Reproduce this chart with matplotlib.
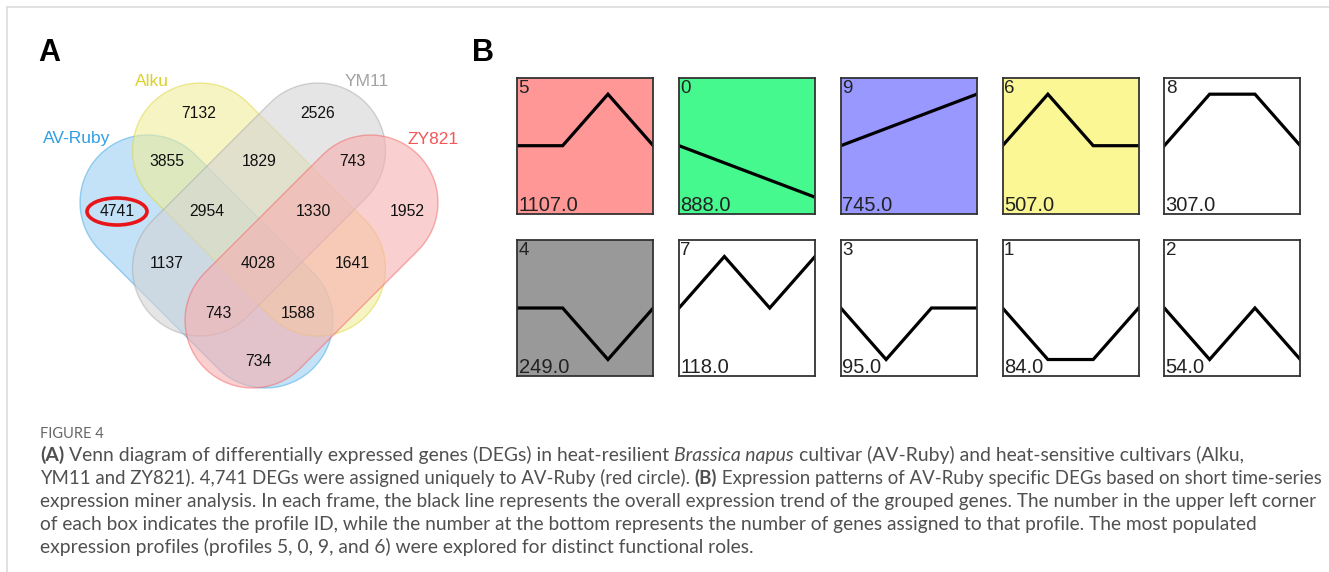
"""Figure 4 : Venn des DEGs (A) et profils STEM spécifiques à AV-Ruby (B)."""
import matplotlib
matplotlib.use("Agg")
import matplotlib.pyplot as plt
from matplotlib.patches import Ellipse, Polygon
import numpy as np

W, H = 1329, 572

# --- Données panneau A (Venn) ---
venn_sets = ["AV-Ruby", "Alku", "YM11", "ZY821"]
venn_label_colors = ["#2E9FE3", "#DCD22A", "#A3A3A3", "#F25757"]
venn_fill_colors = ["#9ED0F3", "#F0ED9B", "#D4D4D4", "#F7AFAF"]
venn_region_keys = ["Alku", "YM11", "AV-Ruby&Alku", "Alku&YM11", "YM11&ZY821",
                    "AV-Ruby", "AV-Ruby&Alku&YM11", "Alku&YM11&ZY821", "ZY821",
                    "AV-Ruby&YM11", "all", "Alku&ZY821",
                    "AV-Ruby&YM11&ZY821", "AV-Ruby&Alku&ZY821", "AV-Ruby&ZY821"]
venn_region_counts = [7132, 2526, 3855, 1829, 743,
                      4741, 2954, 1330, 1952,
                      1137, 4028, 1641,
                      743, 1588, 734]

# --- Données panneau B (profils) ---
profile_ids = [5, 0, 9, 6, 8, 4, 7, 3, 1, 2]
profile_counts = [1107, 888, 745, 507, 307, 249, 118, 95, 84, 54]
profile_trends = [[0, 0, 1, 0], [0, -1, -2, -3], [0, 1, 2, 3], [0, 1, 0, 0],
                  [0, 1, 1, 0], [0, 0, -1, 0], [0, 1, 0, 1], [0, -1, 0, 0],
                  [0, -1, -1, 0], [0, -1, 0, -1]]
profile_colors = ["#FF9797", "#45F98F", "#9898FE", "#FAF794", "white",
                  "#999999", "white", "white", "white", "white"]

caption_title = "FIGURE 4"
caption_lines = [
    [("(A)", "bold"), (" Venn diagram of differentially expressed genes (DEGs) in heat-resilient ", "normal"),
     ("Brassica napus", "italic"), (" cultivar (AV-Ruby) and heat-sensitive cultivars (Alku,", "normal")],
    [("YM11 and ZY821). 4,741 DEGs were assigned uniquely to AV-Ruby (red circle). ", "normal"),
     ("(B)", "bold"), (" Expression patterns of AV-Ruby specific DEGs based on short time-series", "normal")],
    [("expression miner analysis. In each frame, the black line represents the overall expression "
      "trend of the grouped genes. The number in the upper left corner", "normal")],
    [("of each box indicates the profile ID, while the number at the bottom represents the number "
      "of genes assigned to that profile. The most populated", "normal")],
    [("expression profiles (profiles 5, 0, 9, and 6) were explored for distinct functional roles.", "normal")],
]
# bord droit de chaque ligne dans la maquette (px)
caption_right = [1240, 1316, 1316, 1258, 752]

fig = plt.figure(figsize=(W / 100, H / 100), dpi=100)
ax = fig.add_axes([0, 0, 1, 1])
ax.set_xlim(0, W)
ax.set_ylim(H, 0)
ax.axis("off")

# cadre gris clair (haut et gauche)
ax.plot([7, W], [7, 7], color="#dcdcdc", lw=1.2)
ax.plot([7, 7], [7, H], color="#dcdcdc", lw=1.2)


def stadium(cx, cy, half_len, rad, angle_deg, n=60):
    """Contour d'une forme en capsule tournée de angle_deg (coords données)."""
    t1 = np.linspace(-np.pi / 2, np.pi / 2, n)
    t2 = np.linspace(np.pi / 2, 3 * np.pi / 2, n)
    pts = np.vstack([
        np.column_stack([half_len + rad * np.cos(t1), rad * np.sin(t1)]),
        np.column_stack([-half_len + rad * np.cos(t2), rad * np.sin(t2)]),
    ])
    a = np.deg2rad(angle_deg)
    rot = np.array([[np.cos(a), -np.sin(a)], [np.sin(a), np.cos(a)]])
    return pts @ rot.T + np.array([cx, cy])


# --- Venn ---
half_len, rad = 83.4, 67.5
venn_geom = {"AV-Ruby": ((206.5, 261.5), 45), "Alku": ((259, 209.5), 45),
             "YM11": ((259, 209.5), -45), "ZY821": ((311.5, 261.5), -45)}
for name, fc, ec in zip(venn_sets, venn_fill_colors, venn_label_colors):
    (cx, cy), ang = venn_geom[name]
    pts = stadium(cx, cy, half_len, rad, ang)
    ax.add_patch(Polygon(pts, closed=True, facecolor=fc, alpha=0.6, edgecolor="none"))
    ax.add_patch(Polygon(pts, closed=True, facecolor="none", edgecolor=ec,
                         alpha=0.45, lw=1.0))

region_pos = {"Alku": (199, 114), "YM11": (318, 114), "AV-Ruby&Alku": (167, 162),
              "Alku&YM11": (259, 162), "YM11&ZY821": (352, 162), "AV-Ruby": (117, 212),
              "AV-Ruby&Alku&YM11": (207, 212), "Alku&YM11&ZY821": (313, 212),
              "ZY821": (407, 212), "AV-Ruby&YM11": (167, 264), "all": (258, 264),
              "Alku&ZY821": (352, 264), "AV-Ruby&YM11&ZY821": (218, 313),
              "AV-Ruby&Alku&ZY821": (298, 313), "AV-Ruby&ZY821": (258, 361)}
for key, n in zip(venn_region_keys, venn_region_counts):
    x, y = region_pos[key]
    ax.text(x, y, str(n), ha="center", va="center", fontsize=11.3,
            family="Liberation Sans", color="#111111")

label_pos = {"AV-Ruby": (77, 139), "Alku": (152, 81), "YM11": (367, 81), "ZY821": (433, 139)}
for name, col in zip(venn_sets, venn_label_colors):
    x, y = label_pos[name]
    ax.text(x, y, name, ha="center", va="center", fontsize=12.5,
            family="Liberation Sans", color=col)

# cercle rouge autour de 4741
ax.add_patch(Ellipse((117, 211.5), 60, 27, facecolor="none", edgecolor="#E8161B", lw=2.6))

ax.text(38, 53, "A", ha="left", va="center", fontsize=22, fontweight="bold",
        family="Liberation Sans")
ax.text(472, 53, "B", ha="left", va="center", fontsize=22, fontweight="bold",
        family="Liberation Sans")

# --- Panneau B : profils ---
box_w, box_h = 136, 136
x0, y0, dx, dy = 517.3, 77.7, 161.75, 162.3
for k, (pid, cnt, trend, fc) in enumerate(zip(profile_ids, profile_counts,
                                              profile_trends, profile_colors)):
    r, c = divmod(k, 5)
    left = x0 + c * dx
    top = y0 + r * dy
    bax = fig.add_axes([left / W, 1 - (top + box_h) / H, box_w / W, box_h / H])
    t = np.array(trend, dtype=float)
    t = t / np.abs(t).max()
    bax.plot(range(len(t)), t, color="black", lw=2.3, solid_joinstyle="miter")
    bax.set_xlim(0, len(t) - 1)
    bax.set_ylim(-1.32, 1.32)
    bax.set_facecolor(fc)
    bax.set_xticks([])
    bax.set_yticks([])
    for sp in bax.spines.values():
        sp.set_color("#333333")
        sp.set_linewidth(1.3)
    bax.text(0.01, 0.985, str(pid), transform=bax.transAxes, ha="left", va="top",
             fontsize=13.5, family="Liberation Sans", color="#222222")
    bax.text(0.01, -0.01, f"{cnt:.1f}", transform=bax.transAxes, ha="left", va="bottom",
             fontsize=14.5, family="Liberation Sans", color="#222222")

# --- Légende ---
renderer = fig.canvas.get_renderer()
cap_font = "Lato"
cap_color = "#505050"


def run_width(txt, style, size):
    kw = dict(fontsize=size, family=cap_font)
    if style == "bold":
        kw["fontweight"] = "bold"
    if style == "italic":
        kw["fontstyle"] = "italic"
    a = ax.text(0, 0, txt + "|", **kw)
    b = ax.text(0, 0, "|", **kw)
    w = a.get_window_extent(renderer).width - b.get_window_extent(renderer).width
    a.remove()
    b.remove()
    return w, kw


ax.text(40, 438, caption_title, fontsize=10.5, family=cap_font, color="#666666",
        va="baseline")
base_size = 12
for i, (line, right) in enumerate(zip(caption_lines, caption_right)):
    natural = sum(run_width(txt, st, base_size)[0] for txt, st in line)
    size = base_size * (right - 40) / natural
    x = 40
    y = 461 + i * 23
    for txt, style in line:
        w, kw = run_width(txt, style, size)
        ax.text(x, y, txt, va="baseline", ha="left", color=cap_color, **kw)
        x += w

fig.savefig("out.png", dpi=100)
